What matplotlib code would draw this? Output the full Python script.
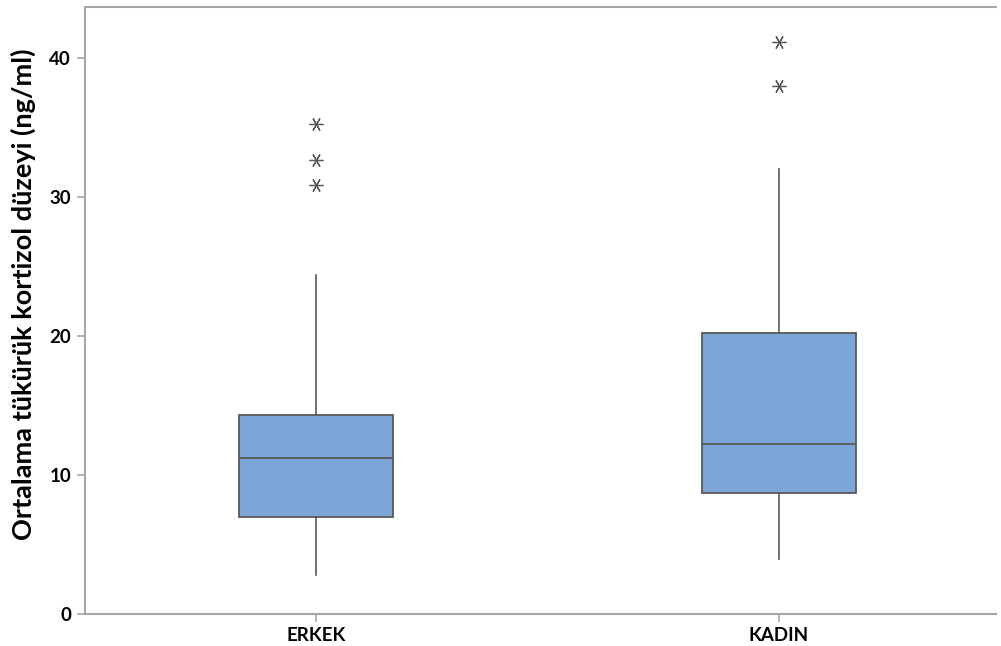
import matplotlib
matplotlib.use("Agg")
import matplotlib.pyplot as plt

categories = ["ERKEK", "KADIN"]
q1 = [7.0, 8.7]
medians = [11.2, 12.2]
q3 = [14.3, 20.2]
whisker_low = [2.8, 3.95]
whisker_high = [24.4, 32.0]
outliers = [[30.9, 32.7, 35.3], [38.0, 41.2]]
y_ticks = [0, 10, 20, 30, 40]
y_label = "Ortalama tükürük kortizol düzeyi (ng/ml)"

plt.rcParams['font.family'] = ['Lato', 'DejaVu Sans']

fig = plt.figure(figsize=(10.01, 6.46), dpi=100)
ax = fig.add_axes([0.085, 0.0495, 0.91, 0.94])

stats = []
for i, c in enumerate(categories):
    stats.append(dict(label=c, q1=q1[i], med=medians[i], q3=q3[i],
                      whislo=whisker_low[i], whishi=whisker_high[i],
                      fliers=outliers[i]))

edge = "#595959"
ax.bxp(stats, positions=[1, 2], widths=0.333, patch_artist=True,
       showcaps=False,
       boxprops=dict(facecolor="#7BA6D8", edgecolor=edge, linewidth=1.3),
       medianprops=dict(color=edge, linewidth=1.3),
       whiskerprops=dict(color=edge, linewidth=1.2),
       flierprops=dict(marker=(6, 2, 30), markersize=10, markeredgecolor=edge,
                       markerfacecolor=edge, markeredgewidth=0.9, linestyle='none'))

ax.set_xlim(0.5, 2.47)
ax.set_ylim(0, 43.7)
ax.set_yticks(y_ticks)
ax.set_yticklabels([str(t) for t in y_ticks])
ax.set_xticks([1, 2])
ax.set_xticklabels(categories)

for s in ['right']:
    ax.spines[s].set_visible(False)
for s in ['top', 'bottom', 'left']:
    ax.spines[s].set_color("#a6a6a6")
    ax.spines[s].set_linewidth(1.5)

ax.tick_params(axis='both', colors="#a6a6a6", length=6, width=1.2)
ax.tick_params(axis='y', pad=4)
ax.tick_params(axis='x', pad=3)
for lab in ax.get_yticklabels() + ax.get_xticklabels():
    lab.set_color("black")
    lab.set_fontsize(13.5)
    lab.set_fontweight("bold")

ax.set_ylabel(y_label, fontsize=19.5, fontweight="bold", color="black")
ax.yaxis.set_label_coords(-0.054, 0.527)

fig.savefig("out.png", dpi=100)
